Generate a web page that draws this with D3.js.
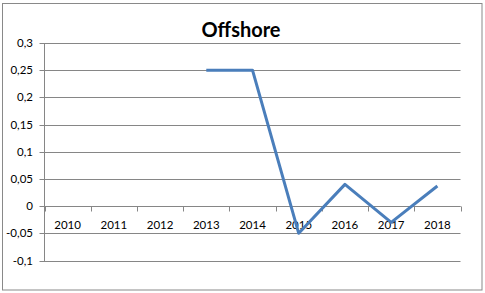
<!DOCTYPE html>
<html><head><meta charset="utf-8">
<script src="https://cdn.jsdelivr.net/npm/d3@7"></script>
<style>html,body{margin:0;padding:0;background:#fff;}svg{display:block;}</style>
</head><body>
<svg id="c" width="485" height="293"></svg>
<script>
const categories = ["2010","2011","2012","2013","2014","2015","2016","2017","2018"];
const values = [null,null,null,0.25,0.25,-0.05,0.04,-0.03,0.037];
const yTicks = [-0.1,-0.05,0,0.05,0.1,0.15,0.2,0.25,0.3];
const title = "Offshore";

const svg = d3.select("#c");
const m = {left:44.5, right:460.5, top:43, bottom:260.5};
const font = "Lato, 'Open Sans', sans-serif";

svg.append("rect").attr("x",2.5).attr("y",3.5).attr("width",479.5).attr("height",286.5)
  .attr("fill","#fff").attr("stroke","#898989").attr("stroke-width",1);

const x = d3.scaleBand().domain(categories).range([m.left, m.right]).paddingInner(0).paddingOuter(0);
const y = d3.scaleLinear().domain([-0.1,0.3]).range([m.bottom, m.top]);
const fmt = d => String(+d.toFixed(2)).replace(".", ",");

// gridlines + left tick marks
const gy = svg.append("g").attr("transform",`translate(${m.left},0)`)
  .call(d3.axisLeft(y).tickValues(yTicks).tickSize(5).tickFormat(fmt));
gy.select(".domain").attr("stroke","#868686");
gy.selectAll(".tick line").attr("stroke","#868686");
gy.selectAll(".tick").each(function(d){
  d3.select(this).select("line").attr("x1", m.right - m.left).attr("x2",-5);
  d3.select(this).attr("transform", `translate(0,${Math.round(y(d))+0.5})`);
});
gy.selectAll(".tick text").attr("x",-11.5).attr("font-family",font).attr("font-size","11.5px").attr("fill","#000");
gy.select(".domain").attr("d", `M-0,${Math.round(y(0.3))+0.5}V${Math.round(y(-0.1))+0.5}`);

// x axis at zero
const y0 = Math.round(y(0))+0.5;
const gx = svg.append("g").attr("transform",`translate(0,${y0})`)
  .call(d3.axisBottom(x).tickSize(0).tickFormat(d=>d));
gx.select(".domain").attr("stroke","#868686").attr("d",`M${m.left},0H${m.right}`);
gx.selectAll(".tick text").attr("y",14).attr("dy","0.71em").attr("font-family",font).attr("font-size","11.5px").attr("fill","#000");
// category boundary tick marks
const bounds = categories.map(c => x(c)).concat([x(categories[categories.length-1]) + x.bandwidth()]);
gx.selectAll(".bt").data(bounds).enter().append("line")
  .attr("x1",d=>Math.round(d)+0.5).attr("x2",d=>Math.round(d)+0.5).attr("y1",0).attr("y2",5)
  .attr("stroke","#868686");

// line
const pts = categories.map((c,i)=>({c, v: values[i]}));
const line = d3.line().defined(d=>d.v!==null).x(d=>x(d.c)+x.bandwidth()/2).y(d=>y(d.v));
svg.append("path").datum(pts).attr("d",line).attr("fill","none")
  .attr("stroke","#4a7ebb").attr("stroke-width",3).attr("stroke-linejoin","round").attr("stroke-linecap","butt");

// title
svg.append("text").attr("x",241).attr("y",36.5).attr("text-anchor","middle")
  .attr("font-family",font).attr("font-weight","bold").attr("font-size","20px").attr("fill","#000").text(title);
</script>
</body></html>
